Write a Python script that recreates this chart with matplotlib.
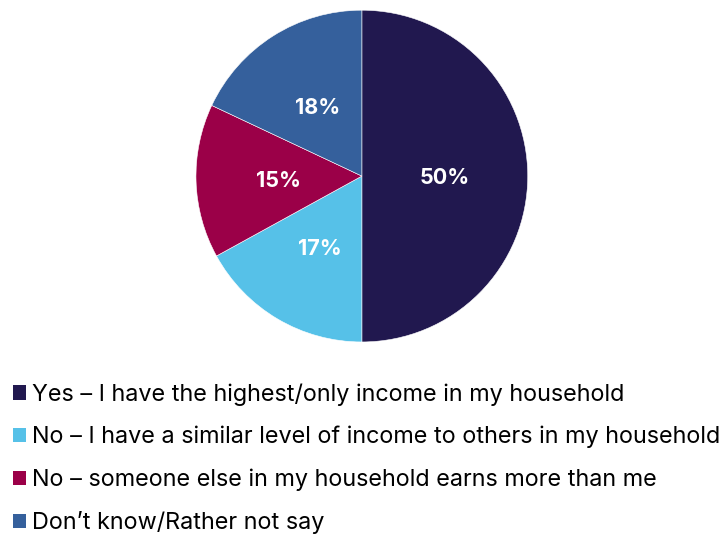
import matplotlib.pyplot as plt
from matplotlib.patches import Patch

plt.rcParams['font.family'] = ['Inter', 'DejaVu Sans']

labels = [
    "Yes \u2013 I have the highest/only income in my household",
    "No \u2013 I have a similar level of income to others in my household",
    "No \u2013 someone else in my household earns more than me",
    "Don\u2019t know/Rather not say",
]
values = [50, 17, 15, 18]
colors = ['#21184F', '#56C1E8', '#9B0048', '#35609C']

fig = plt.figure(figsize=(7.23, 5.36), dpi=100)
ax = fig.add_axes([0.271, 0.362, 0.459, 0.619])

wedges, texts = ax.pie(values, colors=colors, startangle=90, counterclock=False,
                       labels=[f"{v}%" for v in values], labeldistance=0.5,
                       wedgeprops=dict(edgecolor='white', linewidth=0.4),
                       textprops=dict(color='white', fontsize=15.5, fontweight='bold'))
for t in texts:
    t.set_ha('center')
    t.set_va('center')
    x, y = t.get_position()
    t.set_position((x, y - 0.012))
ax.set_xlim(-1, 1)
ax.set_ylim(-1, 1)
ax.set_aspect('equal')

handles = [Patch(facecolor=c, edgecolor='none') for c in colors]
fig.legend(handles, labels, loc='upper left', bbox_to_anchor=(0.008, 0.298),
           frameon=False, fontsize=16.85, handlelength=0.55, handleheight=0.55,
           handletextpad=0.25, labelspacing=0.86, borderaxespad=0, borderpad=0.3)

fig.savefig('out.png', dpi=100)
